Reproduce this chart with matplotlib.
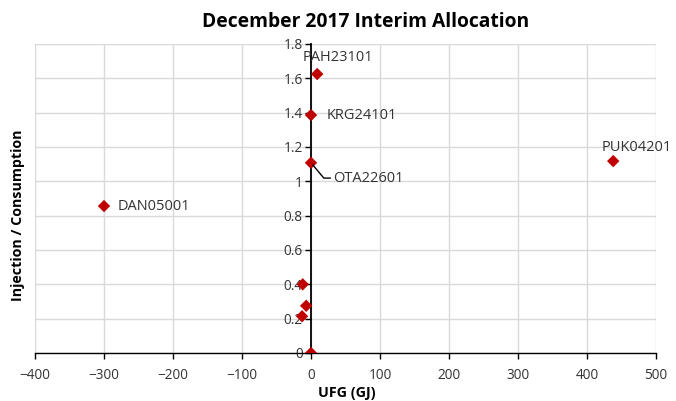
import matplotlib
matplotlib.use("Agg")
import matplotlib.pyplot as plt

ufg = [-300, 438, 9, 0, 0, -12, -7, -13, 0]
ratio = [0.856, 1.118, 1.625, 1.386, 1.108, 0.40, 0.275, 0.214, 0.0]
labels = ["DAN05001", "PUK04201", "PAH23101", "KRG24101", "OTA22601", "", "", "", ""]

plt.rcParams['font.family'] = ['Open Sans', 'DejaVu Sans']

fig = plt.figure(figsize=(6.76, 4.01), dpi=100)
ax = fig.add_axes([35/676, 1-353/401, (656-35)/676, (353-44)/401])

ax.set_xlim(-400, 500)
ax.set_ylim(0, 1.8)
ax.set_xticks(range(-400, 501, 100))
ax.set_yticks([i*0.2 for i in range(10)])
ax.set_yticklabels(["0", "0.2", "0.4", "0.6", "0.8", "1", "1.2", "1.4", "1.6", "1.8"])
ax.grid(True, color="#d9d9d9", linewidth=1)
ax.set_axisbelow(True)

ax.spines['left'].set_position(('data', 0))
ax.spines['right'].set_visible(False)
ax.spines['top'].set_visible(False)
ax.spines['left'].set_linewidth(1.3)
ax.spines['bottom'].set_linewidth(1.0)
ax.tick_params(axis='both', labelsize=9.8, colors='black', labelcolor='#333333',
               length=4, direction='out', width=1)
ax.tick_params(axis='x', pad=7)
ax.tick_params(axis='y', pad=2)

ax.scatter(ufg, ratio, marker='D', s=40, color='#c00000', zorder=3, edgecolors='none')

fs = 10.5
tc = '#333333'
ax.annotate(labels[0], (ufg[0], ratio[0]), xytext=(10, 0), textcoords='offset points',
            ha='left', va='center', fontsize=fs, color=tc)
ax.annotate(labels[1], (ufg[1], ratio[1]), xytext=(17, 10), textcoords='offset points',
            ha='center', va='center', fontsize=fs, color=tc)
ax.annotate(labels[2], (ufg[2], ratio[2]), xytext=(15, 12), textcoords='offset points',
            ha='center', va='center', fontsize=fs, color=tc)
ax.annotate(labels[3], (ufg[3], ratio[3]), xytext=(11, 0), textcoords='offset points',
            ha='left', va='center', fontsize=fs, color=tc)
ax.annotate(labels[4], (ufg[4], ratio[4]), xytext=(16, -11), textcoords='offset points',
            ha='left', va='center', fontsize=fs, color=tc,
            arrowprops=dict(arrowstyle='-', color='black', lw=1,
                            connectionstyle='angle,angleA=0,angleB=-50,rad=0',
                            shrinkA=0, shrinkB=2))

fig.text(347/676, 1-393/401, "UFG (GJ)", ha='center', va='center',
         fontsize=10.3, fontweight='bold')
fig.text(18/676, 1-215/401, "Injection / Consumption", rotation=90, ha='center', va='center',
         fontsize=10.3, fontweight='bold')
fig.text(366/676, 1-22/401, "December 2017 Interim Allocation", ha='center', va='center',
         fontsize=13.9, fontweight='bold')

fig.savefig("out.png", dpi=100)
